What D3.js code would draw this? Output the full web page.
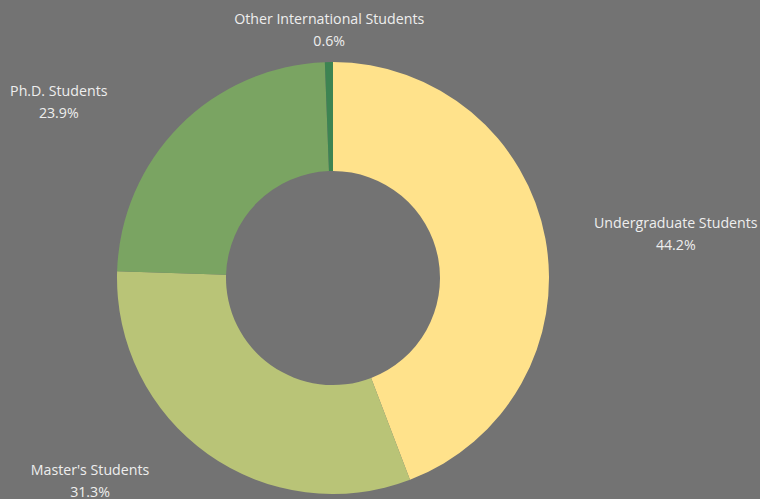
<html>
<head>
<script src="https://d3js.org/d3.v7.min.js"></script>
<style>
    body { margin: 0; background: #737373; }
    svg text { font-family: "Open Sans", "Noto Sans", sans-serif; font-size: 14.2px; fill: #eeeeee; }
</style>
</head>
<body>
<div id="chart"></div>
<script>
// data
const categories = ["Undergraduate Students", "Master's Students", "Ph.D. Students", "Other International Students"];
const shares = [44.2, 31.3, 23.9, 0.6];
const colors = ["#ffe28b", "#b9c477", "#7aa462", "#3d8452"];

// where each label block sits: angle (deg, clockwise from top) and distance from centre
const labelPos = {
    "Undergraduate Students": { angle: 83.5, dist: 345 },
    "Master's Students": { angle: 229.4, dist: 320 },
    "Ph.D. Students": { angle: 301.9, dist: 323 },
    "Other International Students": { angle: 359.1, dist: 243.5 }
};

const width = 760, height = 499;
const cx = 333, cy = 278;
const outerR = 216, innerR = 107;

const svg = d3.select('#chart').append('svg')
    .attr('width', width)
    .attr('height', height);

svg.append('rect').attr('width', width).attr('height', height).attr('fill', '#737373');

const data = categories.map((c, i) => ({ name: c, value: shares[i], color: colors[i] }));

const pie = d3.pie().sort(null).value(d => d.value);
const arc = d3.arc().innerRadius(innerR).outerRadius(outerR);

const g = svg.append('g').attr('transform', `translate(${cx},${cy})`);
const arcs = pie(data);

g.selectAll('path')
    .data(arcs)
    .join('path')
    .attr('d', arc)
    .attr('fill', d => d.data.color);

// labels, two lines centred on their block position
const labels = g.selectAll('text')
    .data(arcs)
    .join('text')
    .attr('text-anchor', 'middle')
    .attr('transform', d => {
        const p = labelPos[d.data.name];
        const a = p.angle * Math.PI / 180;
        return `translate(${Math.sin(a) * p.dist},${-Math.cos(a) * p.dist})`;
    });

labels.append('tspan')
    .attr('x', 0)
    .attr('y', -11)
    .text(d => d.data.name);

labels.append('tspan')
    .attr('x', 0)
    .attr('y', 11)
    .text(d => d.data.value.toFixed(1) + '%');
</script>
</body>
</html>
